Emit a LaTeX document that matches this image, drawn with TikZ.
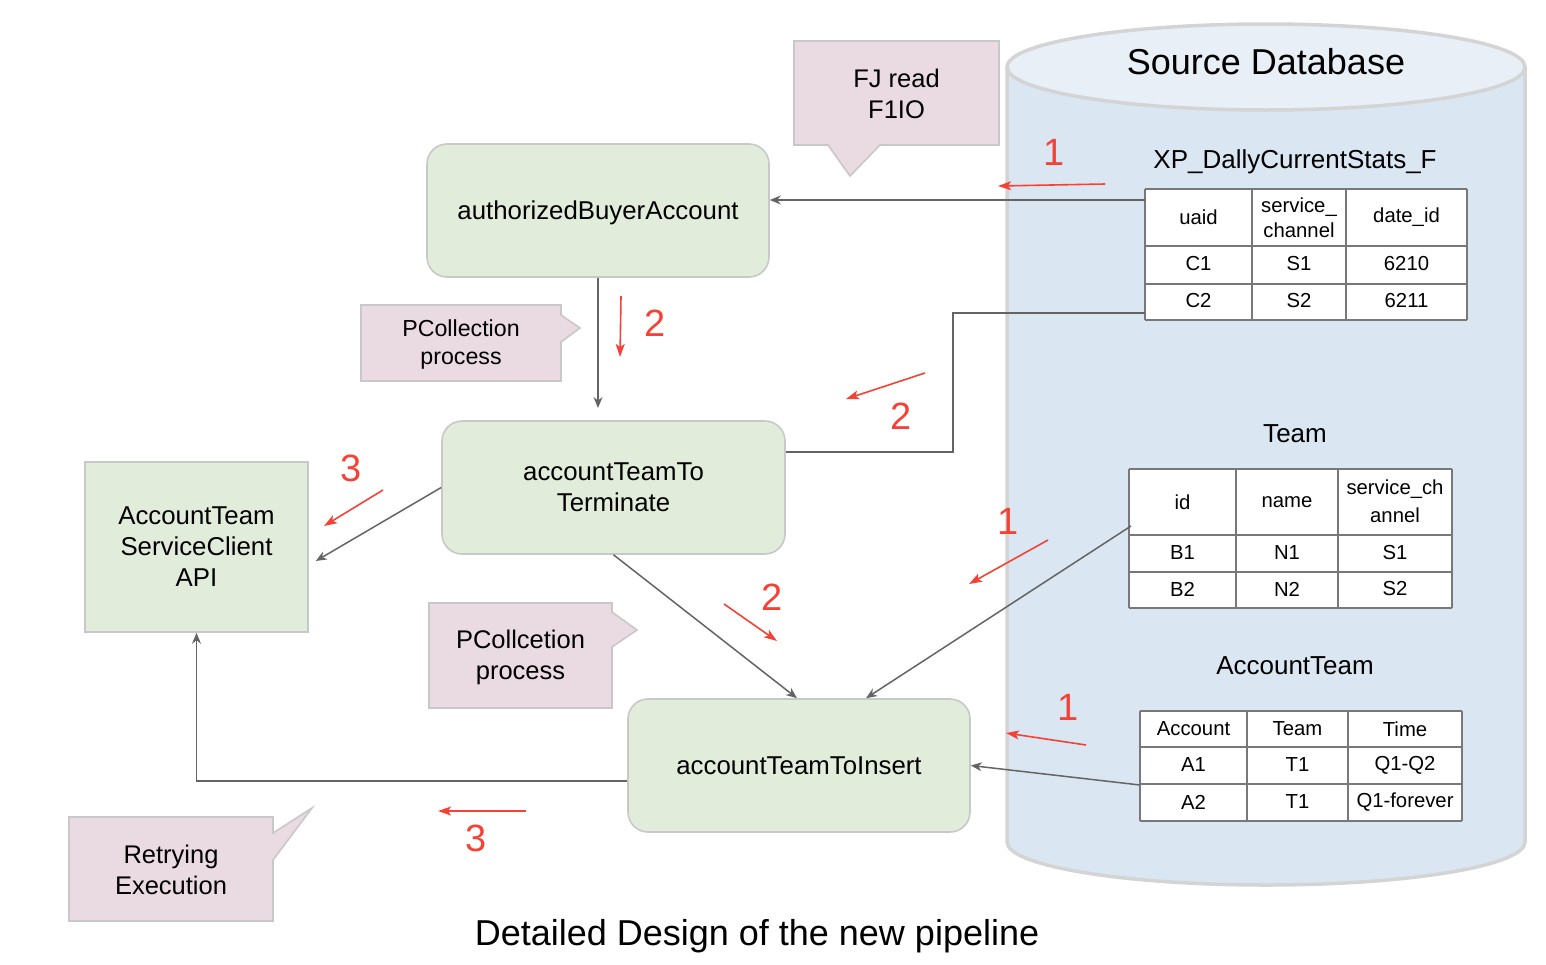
\documentclass[tikz,border=0pt]{standalone}
\usepackage{fontspec}
\setmainfont{Liberation Sans}
\usetikzlibrary{arrows.meta}
\definecolor{gfill}{RGB}{226,236,218}
\definecolor{gborder}{RGB}{200,200,200}
\definecolor{pfill}{RGB}{234,218,225}
\definecolor{dbbody}{RGB}{218,230,242}
\definecolor{dbtop}{RGB}{232,239,247}
\definecolor{dbborder}{RGB}{212,212,212}
\definecolor{conn}{RGB}{100,100,100}
\definecolor{redc}{RGB}{244,67,54}
\definecolor{tblc}{RGB}{120,120,120}
\newcommand{\fs}[2]{\fontsize{#1}{#2}\selectfont}
\begin{document}
\begin{tikzpicture}[x=1pt,y=-1pt,
  gbox/.style={draw=gborder,fill=gfill,line width=1.6pt,rounded corners=20pt,align=center,font=\fs{25.8}{31},text depth=0pt},
  sbox/.style={draw=gborder,fill=gfill,line width=1.6pt,align=center,font=\fs{25.8}{31}},
  callout/.style={draw=gborder,fill=pfill,line width=1.6pt,line join=miter},
  ctext/.style={align=center,font=\fs{25.5}{31}},
  line/.style={draw=conn,line width=1.5pt},
  arr/.style={line,-{Stealth[length=11pt,width=9pt]}},
  redarr/.style={draw=redc,line width=1.6pt,-{Stealth[length=13pt,width=9pt,inset=3pt]}},
  redlbl/.style={text=redc,font=\fs{38}{40}},
  tbl/.style={draw=tblc,line width=2.2pt},
  cell/.style={font=\fs{20.3}{25},align=center},
  title/.style={font=\fs{26}{28}}
]
\useasboundingbox (0,0) rectangle (1546,964);

% ---------- database cylinder ----------
\path[fill=dbbody,draw=dbborder,line width=3.5pt]
  (1007,67) -- (1007,842) arc[start angle=180,end angle=0,x radius=259,y radius=43] -- (1525,67);
\path[fill=dbtop,draw=dbborder,line width=3.5pt] (1266,67) ellipse[x radius=259,y radius=43];
\node[font=\fs{36}{40}] (dbtitle) at (1266,62) {Source Database};

% ---------- table 1 ----------
\node[title] (t1title) at (1295,162) {XP\_DallyCurrentStats\_F};
\fill[white] (1145,189) rectangle (1467,320);
\foreach \y in {189,246,284,320} \draw[tbl] (1145,\y) -- (1467,\y);
\foreach \x in {1145,1252,1346,1467} \draw[tbl] (\x,189) -- (\x,320);
\node[cell] (t1h1) at (1198.5,217) {uaid};
\node[cell] (t1h2) at (1299,218) {service\_\\channel};
\node[cell] (t1h3) at (1406.5,217) {date\_id};
\node[cell] (t1a1) at (1198.5,264) {C1};
\node[cell] (t1a2) at (1299,264) {S1};
\node[cell] (t1a3) at (1406.5,264) {6210};
\node[cell] (t1b1) at (1198.5,301) {C2};
\node[cell] (t1b2) at (1299,301) {S2};
\node[cell] (t1b3) at (1406.5,301) {6211};

% ---------- table 2 ----------
\node[title] (t2title) at (1295,434) {Team};
\fill[white] (1129,469) rectangle (1452,608);
\foreach \y in {469,535,572,608} \draw[tbl] (1129,\y) -- (1452,\y);
\foreach \x in {1129,1236,1338,1452} \draw[tbl] (\x,469) -- (\x,608);
\node[cell] (t2h1) at (1182.5,502) {id};
\node[cell] (t2h2) at (1287,502) {name};
\node[cell,font=\fs{20.3}{28}] (t2h3) at (1395,501) {service\_ch\\annel};
\node[cell] (t2a1) at (1182.5,553) {B1};
\node[cell] (t2a2) at (1287,553) {N1};
\node[cell] (t2a3) at (1395,553) {S1};
\node[cell] (t2b1) at (1182.5,589) {B2};
\node[cell] (t2b2) at (1287,589) {N2};
\node[cell] (t2b3) at (1395,589) {S2};

% ---------- table 3 ----------
\node[title] (t3title) at (1295,666) {AccountTeam};
\fill[white] (1140,711) rectangle (1462,821);
\foreach \y in {711,747,784,821} \draw[tbl] (1140,\y) -- (1462,\y);
\foreach \x in {1140,1247,1348,1462} \draw[tbl] (\x,711) -- (\x,821);
\node[cell] (t3h1) at (1193.5,729) {Account};
\node[cell] (t3h2) at (1297.5,729) {Team};
\node[cell] (t3h3) at (1405,729) {Time};
\node[cell] (t3a1) at (1193.5,765) {A1};
\node[cell] (t3a2) at (1297.5,765) {T1};
\node[cell] (t3a3) at (1405,765) {Q1-Q2};
\node[cell] (t3b1) at (1193.5,802) {A2};
\node[cell] (t3b2) at (1297.5,802) {T1};
\node[cell] (t3b3) at (1405,802) {Q1-forever};

% ---------- process nodes ----------
\node[gbox,minimum width=342pt,minimum height=133pt] (auth) at (598,210.5) {authorizedBuyerAccount};
\node[gbox,minimum width=343pt,minimum height=133pt] (term) at (613.5,487.5) {accountTeamTo\\Terminate};
\node[gbox,minimum width=342pt,minimum height=133pt] (ins) at (799,765.5) {accountTeamToInsert};
\node[sbox,minimum width=223pt,minimum height=170pt] (api) at (196.5,547) {AccountTeam\\ServiceClient\\API};

% ---------- callouts ----------
\draw[callout] (794,41) -- (999,41) -- (999,145) -- (880,145) -- (850,176) -- (828,145) -- (794,145) -- cycle;
\node[ctext] (fj) at (896.5,94) {FJ read\\F1IO};
\draw[callout] (361,305) -- (561,305) -- (561,315) -- (580,328) -- (561,342) -- (561,381) -- (361,381) -- cycle;
\node[ctext,font=\fs{23.2}{28}] (pc1) at (461,344) {PCollection\\process};
\draw[callout] (429,603) -- (612,603) -- (612,612) -- (637,630) -- (612,647) -- (612,708) -- (429,708) -- cycle;
\node[ctext] (pc2) at (520.5,657) {PCollcetion\\process};
\draw[callout] (69,817) -- (273,817) -- (273,833) -- (312,808) -- (273,860) -- (273,921) -- (69,921) -- cycle;
\node[ctext] (retry) at (171,870) {Retrying\\Execution};

% ---------- connectors ----------
\coordinate (t1w) at (1145,200);
\coordinate (t1v) at (1145,313);
\coordinate (j1) at (953,313);
\coordinate (c2) at (598,408);
\coordinate (t2w) at (1131,526);
\coordinate (t3w) at (1140,785);
\draw[arr] (t1w) -- ([yshift=10.5pt]auth.east);
\draw[arr] (auth.south) -- (c2);
\draw[line] (t1v) -- (j1) |- ([yshift=35.5pt]term.east);
\draw[arr] (term.west) -- ([xshift=7pt,yshift=-14pt]api.east);
\draw[arr] (term.south) -- ([xshift=-2pt]ins.north);
\draw[arr] (t2w) -- ([xshift=67pt]ins.north);
\draw[arr] (t3w) -- (ins.east);
\draw[arr] ([yshift=-15.5pt]ins.west) -| (api.south);

% ---------- red step markers ----------
\draw[redarr] (1105,184) -- (998,186);
\node[redlbl] (r1a) at (1054,152) {1};
\draw[redarr] (621,296) -- (620,357);
\node[redlbl] (r2a) at (655,323) {2};
\draw[redarr] (925,373) -- (846,399);
\node[redlbl] (r2b) at (901,416) {2};
\draw[redarr] (383,490) -- (324,526);
\node[redlbl] (r3a) at (351,468) {3};
\draw[redarr] (1048,540) -- (969,584);
\node[redlbl] (r1b) at (1008,521) {1};
\draw[redarr] (724,604) -- (777,641);
\node[redlbl] (r2c) at (772,597) {2};
\draw[redarr] (1086,745) -- (1006,733);
\node[redlbl] (r1c) at (1068,707) {1};
\draw[redarr] (526,811) -- (438,811);
\node[redlbl] (r3b) at (476,838) {3};

% ---------- caption ----------
\node[font=\fs{36}{40}] (caption) at (757,936) {Detailed Design of the new pipeline};
\end{tikzpicture}
\end{document}
